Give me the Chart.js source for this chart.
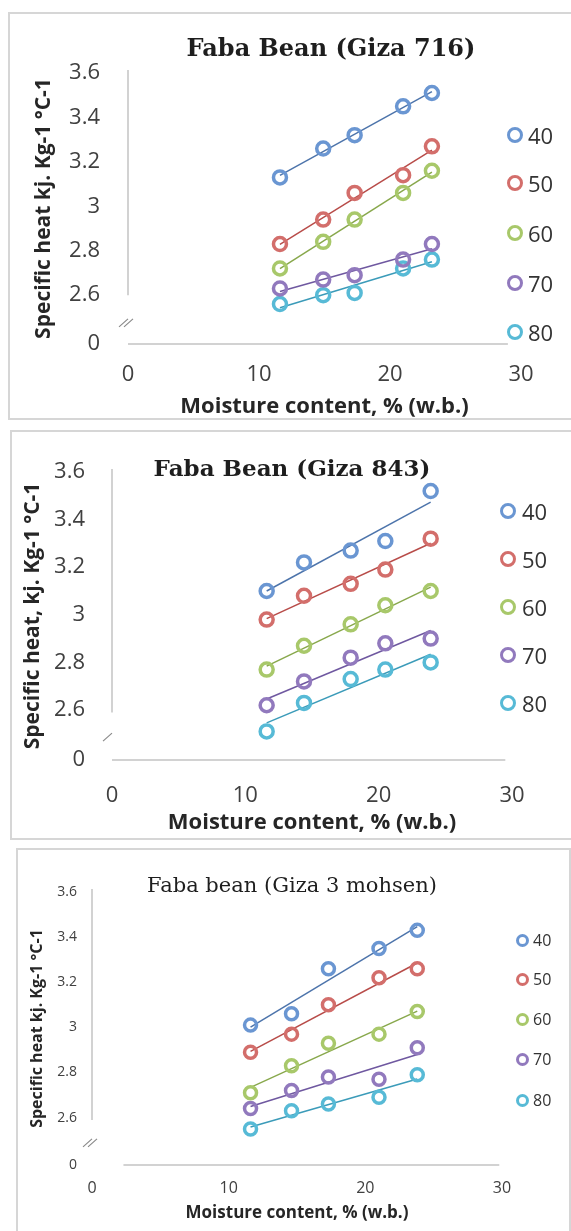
<!DOCTYPE html>
<html lang="en">
<head>
  <meta charset="UTF-8" />
  <title>Faba bean specific heat</title>
  <script src="https://cdn.jsdelivr.net/npm/chart.js"></script>
  <style>
    body {
      margin: 0;
      background: #fff;
      width: 571px;
      height: 1231px;
      overflow: hidden;
      position: relative;
      font-family: 'Open Sans', sans-serif;
    }
    .frame {
      position: absolute;
      border: 2px solid #d6d6d6;
      box-sizing: border-box;
    }
    .plot {
      position: absolute;
      left: 0;
    }
    .title {
      position: absolute;
      transform: translate(-50%, -50%);
      white-space: nowrap;
      color: #1e1e1e;
      font-family: 'DejaVu Serif', serif;
    }
    .leg {
      position: absolute;
      color: #333;
      line-height: 1;
      white-space: nowrap;
    }
    .leg .dot {
      position: absolute;
      border-radius: 50%;
      box-sizing: border-box;
    }
  </style>
</head>
<body>
  <div class="frame" style="left:8px; top:12px; width:600px; height:408px;"></div>
  <div class="frame" style="left:10px; top:430px; width:600px; height:410px;"></div>
  <div class="frame" style="left:16px; top:848px; width:555px; height:400px;"></div>

  <div class="plot" style="top:12px;"><canvas id="giza716" width="571" height="408"></canvas></div>
  <div class="plot" style="top:430px;"><canvas id="giza843" width="571" height="410"></canvas></div>
  <div class="plot" style="top:848px;"><canvas id="giza3" width="571" height="383"></canvas></div>

  <div class="title" style="left:331px; top:47px; font-size:24px; font-weight:bold;">Faba Bean (Giza 716)</div>
  <div class="title" style="left:292px; top:467px; font-size:23px; font-weight:bold;">Faba Bean (Giza 843)</div>
  <div class="title" style="left:292px; top:885px; font-size:21px;">Faba bean (Giza 3 mohsen)</div>

  <script>
    // drying temperatures (legend)
    const temps = ['40', '50', '60', '70', '80'];
    const xTicks = [0, 10, 20, 30];
    const yTicks = [2.6, 2.8, 3, 3.2, 3.4, 3.6];

    // Giza 716
    const moisture716 = [11.6, 14.9, 17.3, 21.0, 23.2];
    const heat716 = [
      [3.13, 3.26, 3.32, 3.45, 3.51],
      [2.83, 2.94, 3.06, 3.14, 3.27],
      [2.72, 2.84, 2.94, 3.06, 3.16],
      [2.63, 2.67, 2.69, 2.76, 2.83],
      [2.56, 2.60, 2.61, 2.72, 2.76]
    ];

    // Giza 843
    const moisture843 = [11.6, 14.4, 17.9, 20.5, 23.9];
    const heat843 = [
      [3.10, 3.22, 3.27, 3.31, 3.52],
      [2.98, 3.08, 3.13, 3.19, 3.32],
      [2.77, 2.87, 2.96, 3.04, 3.10],
      [2.62, 2.72, 2.82, 2.88, 2.90],
      [2.51, 2.63, 2.73, 2.77, 2.80]
    ];

    // Giza 3 mohsen
    const moisture3 = [11.6, 14.6, 17.3, 21.0, 23.8];
    const heat3 = [
      [3.01, 3.06, 3.26, 3.35, 3.43],
      [2.89, 2.97, 3.10, 3.22, 3.26],
      [2.71, 2.83, 2.93, 2.97, 3.07],
      [2.64, 2.72, 2.78, 2.77, 2.91],
      [2.55, 2.63, 2.66, 2.69, 2.79]
    ];

    const markerColors = ['#6a96d2', '#d36e6b', '#a8c86a', '#9179bd', '#57bad6'];
    const lineColors = ['#4d74ab', '#b84c49', '#88a84c', '#6f58a0', '#3b9bb9'];

    // least squares trend line, like the spreadsheet one
    function trend(xs, ys) {
      const n = xs.length;
      const mx = xs.reduce((s, v) => s + v, 0) / n;
      const my = ys.reduce((s, v) => s + v, 0) / n;
      let sxy = 0, sxx = 0;
      xs.forEach((x, i) => {
        sxy += (x - mx) * (ys[i] - my);
        sxx += (x - mx) * (x - mx);
      });
      const b = sxy / sxx;
      const a = my - b * mx;
      return [xs[0], xs[n - 1]].map(x => ({ x: x, y: a + b * x }));
    }

    // axis lines with the "//" break between 0 and 2.6
    function breakPlugin(p) {
      return {
        id: 'brokenAxis',
        afterDatasetsDraw(chart) {
          const { ctx, scales: { x, y } } = chart;
          const x0 = x.getPixelForValue(0);
          ctx.save();
          ctx.strokeStyle = '#c4c4c4';
          ctx.lineWidth = 1.5;
          ctx.beginPath();
          ctx.moveTo(x0, y.top - 3);
          ctx.lineTo(x0, y.getPixelForValue(p.yStop));
          ctx.moveTo(x.getPixelForValue(p.xFrom), y.bottom);
          ctx.lineTo(x.getPixelForValue(p.xTo), y.bottom);
          ctx.stroke();
          const by = y.getPixelForValue(p.breakAt);
          ctx.strokeStyle = '#8a8a8a';
          ctx.lineWidth = 1.2;
          ctx.beginPath();
          for (let k = 0; k < p.marks; k++) {
            const bx = x0 - 4 + k * 5;
            ctx.moveTo(bx - 5, by + 4);
            ctx.lineTo(bx + 4, by - 4);
          }
          ctx.stroke();
          ctx.restore();
        }
      };
    }

    function drawPanel(p) {
      const datasets = [];
      p.series.forEach((ys, i) => {
        datasets.push({
          label: temps[i],
          data: p.moisture.map((x, j) => ({ x: x, y: ys[j] })),
          showLine: false,
          pointStyle: 'circle',
          pointRadius: p.dot,
          pointBorderWidth: p.dotBorder,
          pointBorderColor: markerColors[i],
          pointBackgroundColor: 'rgba(255,255,255,0)'
        });
        datasets.push({
          type: 'line',
          label: temps[i] + ' trend',
          data: trend(p.moisture, ys),
          borderColor: lineColors[i],
          borderWidth: 1.5,
          pointRadius: 0,
          fill: false
        });
      });

      const canvas = document.getElementById(p.id);
      new Chart(canvas, {
        type: 'scatter',
        data: { datasets: datasets },
        options: {
          responsive: false,
          animation: false,
          devicePixelRatio: 1,
          layout: {
            padding: { top: p.chartTop, left: 0, right: canvas.width - p.chartRight, bottom: 0 }
          },
          plugins: {
            legend: { display: false },
            tooltip: { enabled: false }
          },
          scales: {
            x: {
              type: 'linear',
              min: 0,
              max: 30,
              afterBuildTicks: s => { s.ticks = xTicks.map(v => ({ value: v })); },
              afterFit: s => { s.height = p.xAxisHeight; },
              grid: { display: false, drawTicks: false },
              border: { display: false },
              ticks: {
                autoSkip: false,
                maxRotation: 0,
                padding: p.xTickPad,
                color: '#404040',
                font: p.xTickFont
              },
              title: {
                display: true,
                text: 'Moisture content, % (w.b.)',
                color: '#262626',
                font: p.xTitleFont,
                padding: { top: 0, bottom: p.xTitlePad }
              }
            },
            y: {
              type: 'linear',
              min: p.yMin,
              max: 3.6,
              afterBuildTicks: s => {
                s.ticks = [{ value: p.yMin }].concat(yTicks.map(v => ({ value: v })));
              },
              afterFit: s => { s.width = p.chartLeft; },
              grid: { display: false, drawTicks: false },
              border: { display: false },
              ticks: {
                autoSkip: false,
                padding: p.yTickPad,
                color: '#404040',
                font: p.yTickFont,
                callback: v => (v === p.yMin ? '0' : String(v))
              },
              title: {
                display: true,
                text: p.yTitle,
                color: '#262626',
                font: p.yTitleFont,
                padding: { top: p.yTitlePad, bottom: 0 }
              }
            }
          }
        },
        plugins: [breakPlugin(p.axis)]
      });

      // legend on the right, overlapping the end of the x axis like the original
      temps.forEach((t, i) => {
        const item = document.createElement('div');
        item.className = 'leg';
        item.style.left = p.legend.textX + 'px';
        item.style.top = (p.legend.ys[i] - p.legend.size / 2) + 'px';
        item.style.font = p.legend.font;
        item.style.height = p.legend.size + 'px';
        item.style.lineHeight = p.legend.size + 'px';
        item.textContent = t;
        const dot = document.createElement('span');
        dot.className = 'dot';
        const d = p.legend.dot;
        dot.style.width = d + 'px';
        dot.style.height = d + 'px';
        dot.style.left = (p.legend.dotX - p.legend.textX - d / 2) + 'px';
        dot.style.top = (p.legend.size / 2 - d / 2) + 'px';
        dot.style.border = p.legend.dotBorder + 'px solid ' + markerColors[i];
        item.appendChild(dot);
        document.body.appendChild(item);
      });
    }

    drawPanel({
      id: 'giza716', moisture: moisture716, series: heat716,
      chartTop: 61, chartLeft: 128, chartRight: 521, xAxisHeight: 76, yMin: 2.38,
      yTitle: 'Specific heat kj. Kg-1 °C-1',
      xTickFont: { family: 'Open Sans', size: 22 }, yTickFont: { family: 'Open Sans', size: 22 },
      xTitleFont: { family: 'Open Sans', size: 22, weight: 'bold' },
      yTitleFont: { family: 'Open Sans', size: 21, weight: 'bold' },
      xTickPad: 18, xTitlePad: 0, yTickPad: 28, yTitlePad: 31,
      dot: 6.5, dotBorder: 3.5,
      axis: { yStop: 2.6, xFrom: 0, xTo: 29, breakAt: 2.475, marks: 2 },
      legend: { dotX: 515, textX: 528, ys: [135, 183, 233, 283, 332], size: 24, font: '22px "Open Sans"', dot: 16, dotBorder: 3.5 }
    });

    drawPanel({
      id: 'giza843', moisture: moisture843, series: heat843,
      chartTop: 42, chartLeft: 112, chartRight: 512, xAxisHeight: 80, yMin: 2.39,
      yTitle: 'Specific heat, kj. Kg-1 °C-1',
      xTickFont: { family: 'Open Sans', size: 22 }, yTickFont: { family: 'Open Sans', size: 22 },
      xTitleFont: { family: 'Open Sans', size: 22, weight: 'bold' },
      yTitleFont: { family: 'Open Sans', size: 21, weight: 'bold' },
      xTickPad: 23, xTitlePad: 4, yTickPad: 27, yTitlePad: 20,
      dot: 6.5, dotBorder: 3.5,
      axis: { yStop: 2.59, xFrom: 0, xTo: 29.5, breakAt: 2.486, marks: 1 },
      legend: { dotX: 508, textX: 522, ys: [511, 559, 607, 655, 703], size: 24, font: '22px "Open Sans"', dot: 16, dotBorder: 3.5 }
    });

    drawPanel({
      id: 'giza3', moisture: moisture3, series: heat3,
      chartTop: 44, chartLeft: 92, chartRight: 502, xAxisHeight: 66, yMin: 2.39,
      yTitle: 'Specific heat kj. Kg-1 °C-1',
      xTickFont: { family: 'Open Sans', size: 16 },
      yTickFont: { family: 'Open Sans', size: 14 },
      xTitleFont: { family: 'Open Sans', size: 17, weight: 'bold' },
      yTitleFont: { family: 'Open Sans', size: 16, weight: 'bold' },
      xTickPad: 14, xTitlePad: 8, yTickPad: 15, yTitlePad: 28,
      dot: 6, dotBorder: 3.5,
      axis: { yStop: 2.59, xFrom: 2.3, xTo: 29.8, breakAt: 2.488, marks: 2 },
      legend: { dotX: 522, textX: 533, ys: [940, 979, 1019, 1059, 1100], size: 20, font: '16px "Open Sans"', dot: 13, dotBorder: 3 }
    });
  </script>
</body>
</html>
